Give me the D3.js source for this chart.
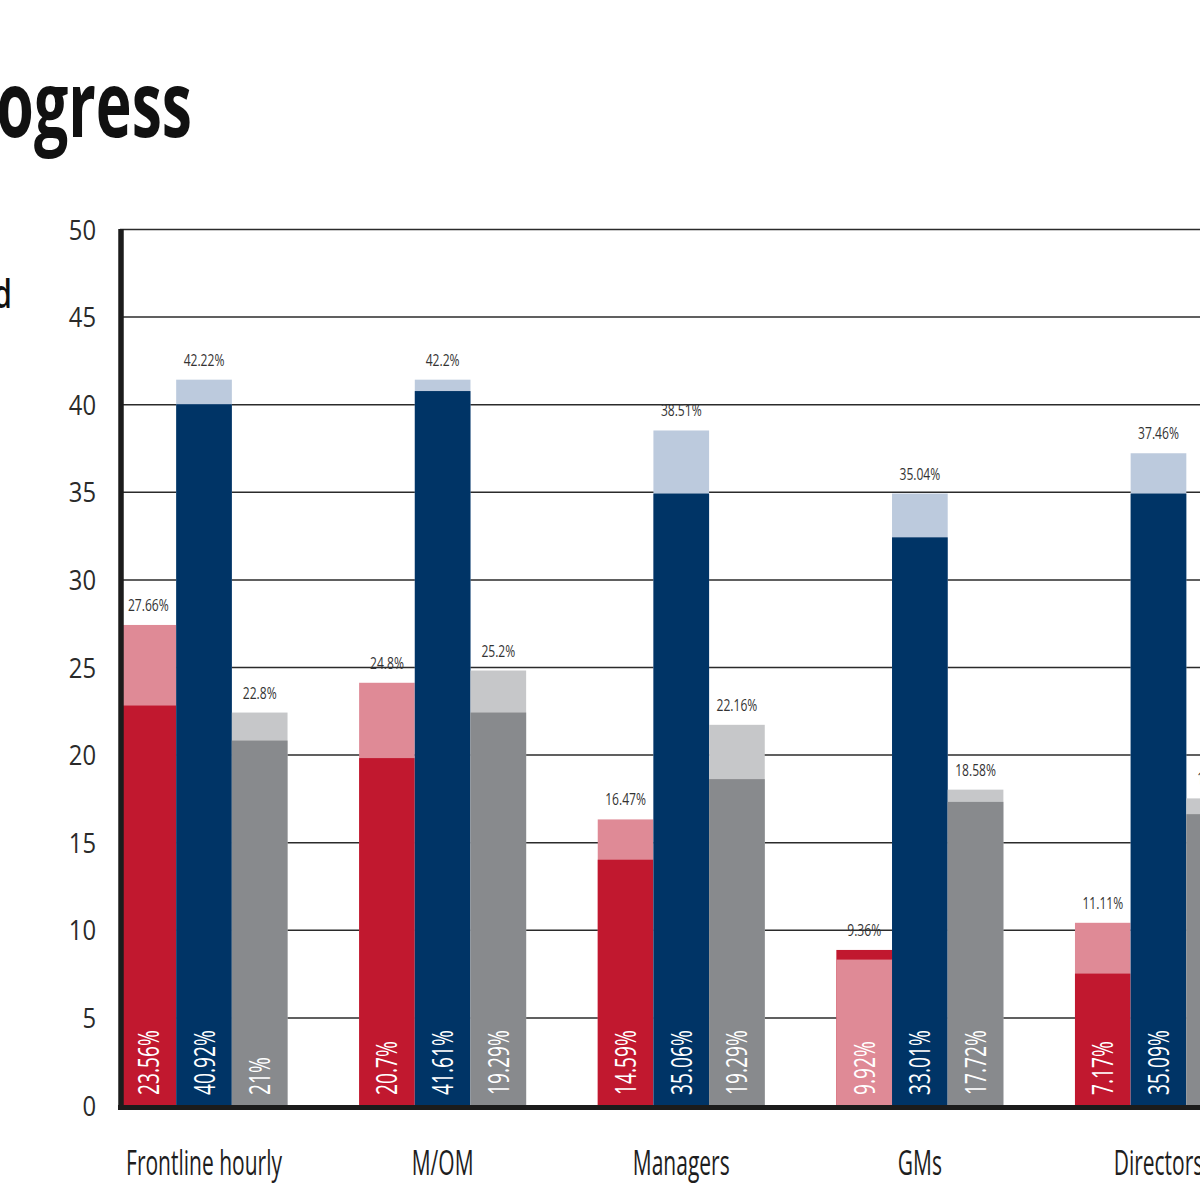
<!DOCTYPE html>
<html>
<head>
<meta charset="utf-8">
<script src="https://cdn.jsdelivr.net/npm/d3@7"></script>
<style>
  body { margin: 0; background: #fff; }
  svg { display: block; }
</style>
</head>
<body>
<div id="chart"></div>
<script>
var categories = ["Frontline hourly", "M/OM", "Managers", "GMs", "Directors"];

// bar heights as drawn in the picture (outer = taller back bar, inner = front bar)
var redOuter = [27.4, 24.1, 16.3, 8.85, 10.4];
var redInner = [22.8, 19.8, 14.0, 8.3, 7.5];
var navyOuter = [41.4, 41.4, 38.5, 34.9, 37.2];
var navyInner = [40.0, 40.75, 34.9, 32.4, 34.9];
var grayOuter = [22.4, 24.8, 21.7, 18.0, 17.5];
var grayInner = [20.8, 22.4, 18.6, 17.3, 16.6];

// printed labels
var redOuterLabels = ["27.66%", "24.8%", "16.47%", "9.36%", "11.11%"];
var redInnerLabels = ["23.56%", "20.7%", "14.59%", "9.92%", "7.17%"];
var navyOuterLabels = ["42.22%", "42.2%", "38.51%", "35.04%", "37.46%"];
var navyInnerLabels = ["40.92%", "41.61%", "35.06%", "33.01%", "35.09%"];
var grayOuterLabels = ["22.8%", "25.2%", "22.16%", "18.58%", "17.5%"];
var grayInnerLabels = ["21%", "19.29%", "19.29%", "17.72%", "16.6%"];

var yTicks = [0, 5, 10, 15, 20, 25, 30, 35, 40, 45, 50];

var width = 1200;
var height = 1200;
var font = "'Open Sans', 'Noto Sans', sans-serif";

var series = [
  { key: "red", outer: redOuter, inner: redInner, outerLabels: redOuterLabels, innerLabels: redInnerLabels, dark: "#c1182f", light: "#df8a96" },
  { key: "navy", outer: navyOuter, inner: navyInner, outerLabels: navyOuterLabels, innerLabels: navyInnerLabels, dark: "#003466", light: "#bccadd" },
  { key: "gray", outer: grayOuter, inner: grayInner, outerLabels: grayOuterLabels, innerLabels: grayInnerLabels, dark: "#888a8d", light: "#c6c7c9" }
];

var svg = d3
  .select("#chart")
  .append("svg")
  .attr("width", width)
  .attr("height", height);

var xScale = d3
  .scaleBand()
  .domain(categories)
  .range([120.5, 1242])
  .paddingInner(0.3)
  .paddingOuter(0);

var subScale = d3
  .scaleBand()
  .domain(series.map(function (s) { return s.key; }))
  .range([0, xScale.bandwidth()]);

var yScale = d3.scaleLinear().domain([0, 50]).range([1105, 229]);

// condensed text: the original face is a narrow one
function condText(g, txt, x, y, size, k, extra) {
  return g
    .append("text")
    .text(txt)
    .attr("transform", "translate(" + x + "," + y + ")" + (extra || "") + " scale(" + k + ",1)")
    .attr("font-family", font)
    .attr("font-size", size + "px");
}

// title and cut-off side text
condText(svg, "Progress", 192, 137, 92, 0.66)
  .attr("text-anchor", "end")
  .attr("font-weight", 700)
  .attr("fill", "#111");

condText(svg, "d", 12, 308, 40, 0.75)
  .attr("text-anchor", "end")
  .attr("font-weight", 600)
  .attr("fill", "#111");

// grid + tick labels
var yAxis = d3
  .axisLeft(yScale)
  .tickValues(yTicks)
  .tickSize(-(width - 120 + 50))
  .tickPadding(0);

var axisG = svg
  .append("g")
  .attr("transform", "translate(120,0)")
  .call(yAxis);

axisG.select(".domain").remove();
axisG.selectAll("line").attr("stroke", "#2b2b2b").attr("stroke-width", 1.5);
axisG.selectAll(".tick")
  .filter(function (d) { return d === 0; })
  .select("line")
  .remove();
axisG
  .selectAll("text")
  .attr("x", null)
  .attr("dy", "0.36em")
  .attr("transform", "translate(-24,0) scale(0.85,1)")
  .attr("font-family", font)
  .attr("font-size", "28px")
  .attr("fill", "#2a2a2a");

// bars
var groups = svg
  .selectAll("g.group")
  .data(categories)
  .enter()
  .append("g")
  .attr("class", "group")
  .attr("transform", function (d) {
    return "translate(" + xScale(d) + ",0)";
  });

series.forEach(function (s) {
  var bw = subScale.bandwidth();

  groups.each(function (cat, i) {
    var g = d3.select(this);
    var bx = subScale(s.key);
    var swap = parseFloat(s.innerLabels[i]) > parseFloat(s.outerLabels[i]);

    g.append("rect")
      .attr("x", bx)
      .attr("y", yScale(s.outer[i]))
      .attr("width", bw)
      .attr("height", yScale(0) - yScale(s.outer[i]))
      .attr("fill", swap ? s.dark : s.light);

    g.append("rect")
      .attr("x", bx)
      .attr("y", yScale(s.inner[i]))
      .attr("width", bw)
      .attr("height", yScale(0) - yScale(s.inner[i]))
      .attr("fill", swap ? s.light : s.dark);

    condText(g, s.outerLabels[i], bx + bw / 2, yScale(s.outer[i]) - 14, 15.5, 0.78)
      .attr("text-anchor", "middle")
      .attr("fill", "#333");

    condText(g, s.innerLabels[i], bx + bw / 2 + 10.5, yScale(0) - 10, 30, 0.64, " rotate(-90)")
      .attr("fill", "#fff");
  });
});

// category labels
svg
  .selectAll("text.cat")
  .data(categories)
  .enter()
  .append("text")
  .attr("class", "cat")
  .text(function (d) { return d; })
  .attr("transform", function (d) {
    return "translate(" + (xScale(d) + xScale.bandwidth() / 2) + ",1175) scale(0.6,1)";
  })
  .attr("text-anchor", "middle")
  .attr("font-family", font)
  .attr("font-size", "35px")
  .attr("fill", "#1e1e1e");

// axis lines
svg
  .append("line")
  .attr("x1", 121)
  .attr("x2", 121)
  .attr("y1", yScale(50))
  .attr("y2", yScale(0) + 5)
  .attr("stroke", "#1c1c1c")
  .attr("stroke-width", 5.5);

svg
  .append("line")
  .attr("x1", 118)
  .attr("x2", width + 50)
  .attr("y1", yScale(0) + 2.5)
  .attr("y2", yScale(0) + 2.5)
  .attr("stroke", "#1c1c1c")
  .attr("stroke-width", 5);
</script>
</body>
</html>
